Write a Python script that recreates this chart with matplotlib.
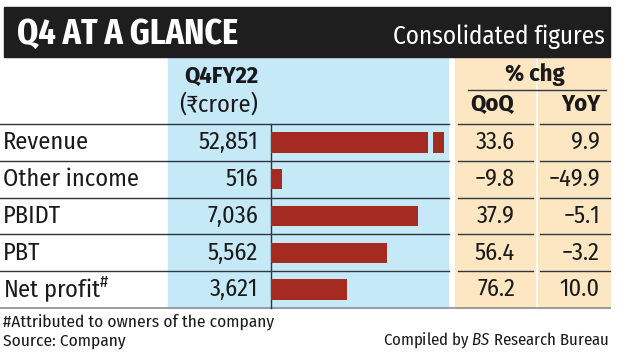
import matplotlib
matplotlib.use("Agg")
import matplotlib.pyplot as plt
from matplotlib.patches import Rectangle

# ---- data ----
categories = ["Revenue", "Other income", "PBIDT", "PBT", "Net profit$^{\\#}$"]
values = [52851, 516, 7036, 5562, 3621]
value_labels = ["52,851", "516", "7,036", "5,562", "3,621"]
qoq = [33.6, -9.8, 37.9, 56.4, 76.2]
yoy = [9.9, -49.9, -5.1, -3.2, 10.0]

FONT = ["Fira Sans Condensed", "DejaVu Sans"]
TITLE_FONT = ["Fira Sans Extra Condensed", "Fira Sans Condensed", "DejaVu Sans"]
plt.rcParams["font.family"] = FONT
plt.rcParams["mathtext.fontset"] = "custom"
plt.rcParams["mathtext.rm"] = "Fira Sans Condensed"
plt.rcParams["mathtext.it"] = "Fira Sans Condensed:italic"
plt.rcParams["mathtext.bf"] = "Fira Sans Condensed:bold"

BLACK = "#1e1e1e"
BLUE = "#c6e9f8"
ORANGE = "#fde7c3"
RED = "#a52a22"
LINE = "#2f3640"
TXT = "#1a1a1a"

def fmt(v):
    s = f"{abs(v):.1f}"
    return ("\u2212" + s) if v < 0 else s

W, H = 620, 353
fig = plt.figure(figsize=(W / 100, H / 100), dpi=100)
fig.patch.set_facecolor("white")
ax0 = fig.add_axes([0, 0, 1, 1])
ax0.set_xlim(0, W)
ax0.set_ylim(H, 0)
ax0.axis("off")

# header bar
ax0.add_patch(Rectangle((4, 7), 606, 50, color=BLACK, zorder=1))
ax0.text(17, 34, "Q4 AT A GLANCE", color="white", fontsize=26.5, fontweight="bold",
         va="center", ha="left", zorder=2, family=TITLE_FONT)
ax0.text(605, 37, "Consolidated figures", color="white", fontsize=18,
         va="center", ha="right", zorder=2)

# column backgrounds
top, bottom = 57, 308
ax0.add_patch(Rectangle((168, top), 280, bottom - top, color=BLUE, zorder=0))
ax0.add_patch(Rectangle((455, top), 80, bottom - top, color=ORANGE, zorder=0))
ax0.add_patch(Rectangle((538, top), 72, bottom - top, color=ORANGE, zorder=0))

# column headers
HS = 17.5
ax0.text(258, 76, "Q4FY22", fontsize=HS, fontweight="bold", ha="right", va="center", color=TXT)
ax0.text(258, 104, "(\u20b9crore)", fontsize=HS, ha="right", va="center", color=TXT)
ax0.text(535, 75, "% chg", fontsize=HS, fontweight="bold", ha="center", va="center", color=TXT)
ax0.plot([468, 606], [90, 90], color=LINE, lw=1, zorder=2)
ax0.text(492, 104, "QoQ", fontsize=HS, fontweight="bold", ha="center", va="center", color=TXT)
ax0.text(600, 104, "YoY", fontsize=HS, fontweight="bold", ha="right", va="center", color=TXT)

# rows
RS = 17.5
row_top = 124
row_h = (bottom - row_top) / len(categories)
for i in range(len(categories)):
    y = row_top + i * row_h
    for x0, x1 in [(0, 449), (458, 533), (540, 610)]:
        ax0.plot([x0, x1], [y, y], color=LINE, lw=1, zorder=2)
    yc = y + row_h / 2
    ax0.text(3, yc, categories[i], fontsize=RS, ha="left", va="center", color=TXT)
    ax0.text(258, yc, value_labels[i], fontsize=RS, ha="right", va="center", color=TXT)
    ax0.text(515, yc, fmt(qoq[i]), fontsize=RS, ha="right", va="center", color=TXT)
    ax0.text(600, yc, fmt(yoy[i]), fontsize=RS, ha="right", va="center", color=TXT)
ax0.plot([0, 610], [bottom, bottom], color="#8a8f96", lw=1.2, zorder=2)

# footnotes
ax0.text(3, 322, "#Attributed to owners of the company", fontsize=12.5, ha="left", va="center", color=TXT)
ax0.text(3, 341, "Source: Company", fontsize=12.5, ha="left", va="center", color=TXT)
ax0.text(609, 341, "Compiled by $\\it{BS}$ Research Bureau", fontsize=12, ha="right", va="center", color=TXT)

# bars
axb = fig.add_axes([271 / W, (H - bottom) / H, (448 - 271) / W, (bottom - row_top) / H])
axb.set_facecolor("none")
xmax = 8473
cap = 8282
gap0, gap1 = 7515, 7755
axb.set_xlim(0, xmax)
axb.set_ylim(len(categories) - 0.5, -0.5)
ypos = list(range(len(categories)))
shown = [min(v, cap) for v in values]
axb.barh(ypos, shown, height=0.55, color=RED, zorder=2)
for yy, v in zip(ypos, values):
    if v > cap:
        axb.barh(yy, gap1 - gap0, left=gap0, height=0.7, color=BLUE, zorder=3)
axb.axis("off")
ax0.plot([270.5, 270.5], [row_top, bottom], color=LINE, lw=1, zorder=3)

fig.savefig("out.png", dpi=100, facecolor="white")
